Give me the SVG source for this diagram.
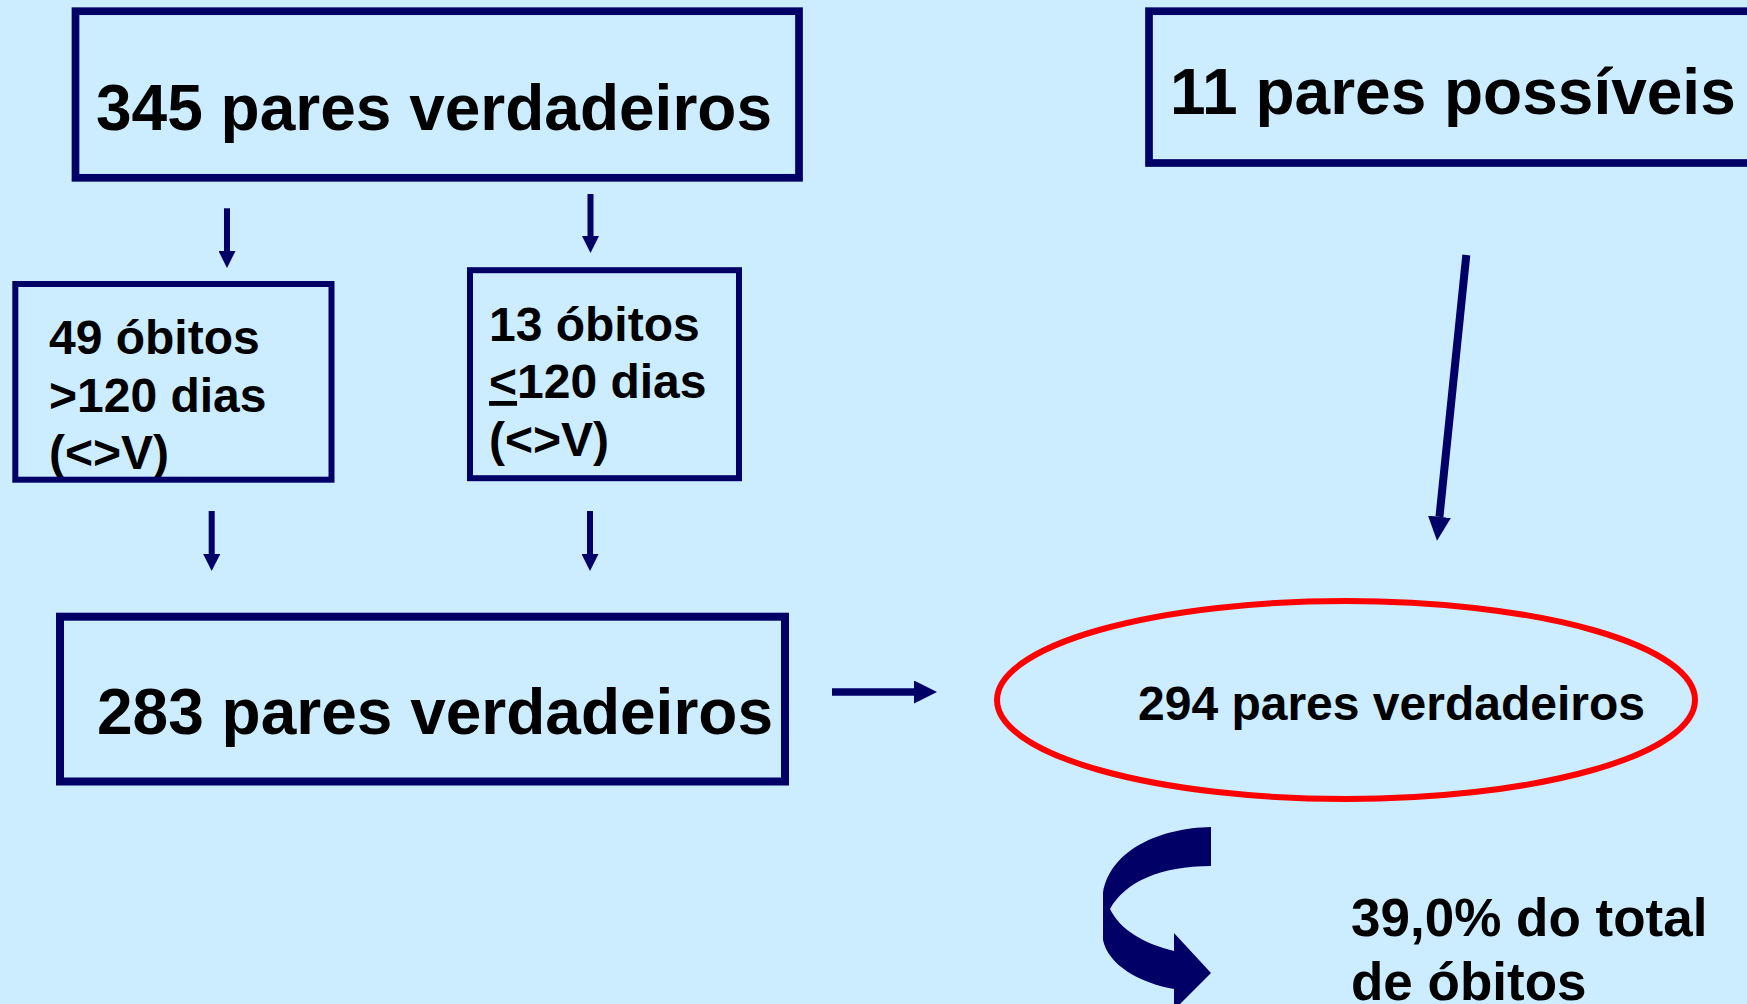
<svg xmlns="http://www.w3.org/2000/svg" width="1747" height="1004" viewBox="0 0 1747 1004">
<style>
.box{fill:none;stroke:#000066;stroke-width:7.7}
.thin{stroke-width:6}
.t{font-family:"Liberation Sans",Arial,sans-serif;font-weight:bold;fill:#000}
.big{font-size:64px}
.mid{font-size:48px}
.conn{stroke:#000066;fill:none}
</style>
<defs>
<marker id="ahs" viewBox="0 0 17 17" refX="0" refY="8.5" markerWidth="17" markerHeight="17" markerUnits="userSpaceOnUse" orient="auto">
<path d="M0,0 L17,8.5 L0,17 z" fill="#000066"/>
</marker>
<marker id="ahm" viewBox="0 0 23 23" refX="0" refY="11.5" markerWidth="23" markerHeight="23" markerUnits="userSpaceOnUse" orient="auto">
<path d="M0,0 L23,11.5 L0,23 z" fill="#000066"/>
</marker>
<marker id="ahl" viewBox="0 0 24 23" refX="0" refY="11.5" markerWidth="24" markerHeight="23" markerUnits="userSpaceOnUse" orient="auto">
<path d="M0,0 L24,11.5 L0,23 z" fill="#000066"/>
</marker>
</defs>
<rect width="1747" height="1004" fill="#CCECFF"/>

<g id="n345">
<rect class="box" x="75.5" y="11.2" width="723.5" height="166.6"/>
<text class="t big" x="96" y="130">345 pares verdadeiros</text>
</g>

<g id="n11">
<rect class="box" x="1149" y="11.2" width="620" height="151.8"/>
<text class="t big" x="1170" y="114">11 pares possíveis</text>
</g>

<g id="n49">
<text class="t mid" x="49" y="354">49 óbitos</text>
<text class="t mid" x="49" y="412">&gt;120 dias</text>
<text class="t mid" x="49" y="469">(&lt;&gt;V)</text>
<rect class="box thin" x="15.3" y="284" width="316.2" height="195.7"/>
</g>

<g id="n13">
<text class="t mid" x="489" y="341">13 óbitos</text>
<text class="t mid" x="489" y="398"><tspan text-decoration="underline">&lt;</tspan>120 dias</text>
<text class="t mid" x="489" y="456">(&lt;&gt;V)</text>
<rect class="box thin" x="470" y="270.2" width="269" height="208"/>
</g>

<g id="n283">
<rect class="box" x="60" y="616.7" width="725" height="164.8" style="stroke-width:8"/>
<text class="t big" x="97" y="734">283 pares verdadeiros</text>
</g>

<g id="n294">
<ellipse cx="1346" cy="700" rx="349" ry="99" fill="none" stroke="#FF0000" stroke-width="6"/>
<text class="t mid" x="1138" y="720">294 pares verdadeiros</text>
</g>

<g id="curved-arrow">
<path fill="#000066" d="M1211,827 C1160,828 1110,850 1103,893 L1103,940 C1108,965 1140,983 1174,989 L1174,1010 L1211,973 L1174,933 L1174,951 C1145,944 1120,930 1110,909 C1125,882 1160,866 1211,866 Z"/>
</g>

<g id="pct">
<text class="t" style="font-size:53px" x="1351" y="936">39,0% do total</text>
<text class="t" style="font-size:53px" x="1351" y="1000">de óbitos</text>
</g>

<g id="connectors" class="conn">
<line x1="227" y1="208.3" x2="227" y2="251" stroke-width="6" marker-end="url(#ahs)"/>
<line x1="590.5" y1="194" x2="590.5" y2="236" stroke-width="6" marker-end="url(#ahs)"/>
<line x1="211.7" y1="511" x2="211.7" y2="554" stroke-width="6" marker-end="url(#ahs)"/>
<line x1="590" y1="511" x2="590" y2="554" stroke-width="6" marker-end="url(#ahs)"/>
<line x1="832" y1="692" x2="914" y2="692" stroke-width="7.7" marker-end="url(#ahm)"/>
<line x1="1466.3" y1="255" x2="1439.45" y2="516.8" stroke-width="8" marker-end="url(#ahl)"/>
</g>
</svg>
